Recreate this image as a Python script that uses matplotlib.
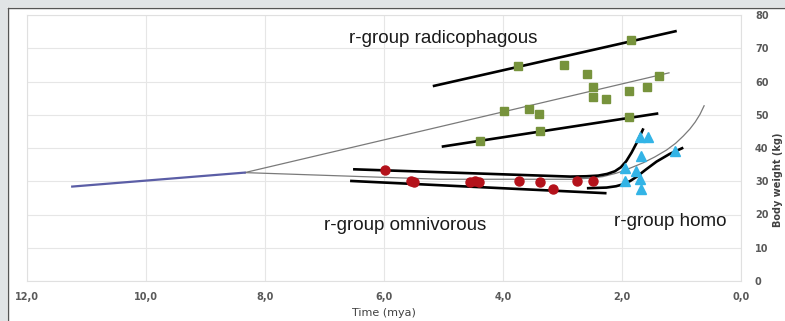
import matplotlib
matplotlib.use("Agg")
import matplotlib.pyplot as plt
from matplotlib.patches import Rectangle
from matplotlib.lines import Line2D

# ---- data (time in mya, body weight in kg) ----
radico_t = [1.85, 3.75, 2.97, 2.59, 1.38, 2.49, 2.49, 2.27, 1.88, 1.58, 3.98, 3.56, 3.39, 3.38, 4.39, 1.88]
radico_w = [72.5, 64.7, 65.0, 62.3, 61.7, 58.3, 55.3, 54.7, 57.1, 58.3, 51.1, 51.7, 50.2, 45.1, 42.1, 49.3]

omni_t = [5.98, 5.55, 5.49, 4.55, 4.47, 4.40, 3.73, 3.38, 3.16, 2.76, 2.48]
omni_w = [33.4, 30.0, 29.9, 29.8, 30.1, 29.9, 30.2, 29.9, 27.7, 30.1, 30.2]

homo_t = [1.70, 1.57, 1.68, 1.11, 1.95, 1.76, 1.70, 1.95, 1.68]
homo_w = [43.2, 43.2, 37.6, 39.2, 33.9, 33.2, 30.7, 30.2, 27.6]

# trend lines
radico_upper_t = [5.18, 1.08]
radico_upper_w = [58.6, 75.2]
radico_mid_t = [8.34, 1.21]
radico_mid_w = [32.6, 62.6]
radico_lower_t = [5.03, 1.39]
radico_lower_w = [40.4, 50.4]

omni_upper_t = [6.52, 2.87, 2.60, 2.40, 2.25, 2.12, 2.02, 1.93, 1.84, 1.74, 1.64]
omni_upper_w = [33.6, 31.4, 31.5, 31.7, 32.2, 33.0, 34.2, 36.0, 38.6, 42.0, 45.9]
omni_lower_t = [6.57, 2.26]
omni_lower_w = [30.1, 26.4]

main_thin_t = [8.34, 5.06, 2.87, 2.55, 2.32, 2.10, 1.98, 1.65, 1.45, 1.25, 1.10, 0.97, 0.86, 0.77, 0.69, 0.62]
main_thin_w = [32.6, 30.6, 30.6, 30.9, 31.4, 32.4, 33.1, 35.5, 37.3, 39.4, 41.4, 43.6, 45.7, 47.8, 50.1, 52.7]

homo_line_t = [2.59, 2.26, 2.10, 1.98, 1.86, 1.75, 1.60, 1.42, 1.20, 0.97]
homo_line_w = [27.9, 28.1, 28.5, 29.1, 30.1, 31.4, 33.5, 35.9, 38.2, 40.1]

ancestor_t = [11.24, 8.34]
ancestor_w = [28.4, 32.6]

x_ticks = [12, 10, 8, 6, 4, 2, 0]
y_ticks = [0, 10, 20, 30, 40, 50, 60, 70, 80]

# ---- figure ----
fig = plt.figure(figsize=(7.85, 3.21), dpi=100)
W, H = 785, 321

# grey frame bands (top and left)
fig.patches.append(Rectangle((0, 1 - 7 / H), 1, 7 / H, transform=fig.transFigure,
                             facecolor="#e1e4e6", edgecolor="none", zorder=0))
fig.patches.append(Rectangle((0, 0), 7 / W, 1, transform=fig.transFigure,
                             facecolor="#e1e4e6", edgecolor="none", zorder=0))
fig.lines.append(Line2D([7.5 / W, 1], [1 - 7.5 / H, 1 - 7.5 / H], transform=fig.transFigure,
                        color="#555555", lw=1.0))
fig.lines.append(Line2D([7.5 / W, 7.5 / W], [0, 1 - 7.5 / H], transform=fig.transFigure,
                        color="#555555", lw=1.0))

ax = fig.add_axes([27 / W, 1 - 281 / H, (741 - 27) / W, (281 - 15) / H])
ax.set_xlim(12, 0)
ax.set_ylim(0, 80)
ax.set_xticks(x_ticks)
ax.set_xticklabels([f"{v:.1f}".replace(".", ",") for v in x_ticks])
ax.set_yticks(y_ticks)
ax.set_yticklabels([str(v) for v in y_ticks])
ax.yaxis.tick_right()
ax.tick_params(length=0, labelsize=7, colors="#595959")
for lab in ax.get_xticklabels() + ax.get_yticklabels():
    lab.set_fontweight("bold")
ax.tick_params(axis="x", pad=8)
ax.tick_params(axis="y", pad=10)
ax.grid(True, color="#e6e6e6", lw=0.8)
ax.set_axisbelow(True)
for s in ax.spines.values():
    s.set_color("#e0e0e0")
    s.set_linewidth(0.8)

ax.set_xlabel("Time (mya)", fontsize=8, color="#404040", labelpad=4)

thick = dict(color="black", lw=1.9, solid_capstyle="butt", solid_joinstyle="round", zorder=3)
thin = dict(color="#7a7a7a", lw=0.9, solid_joinstyle="round", zorder=2)

ax.plot(ancestor_t, ancestor_w, color="#5b5ea6", lw=1.6, zorder=3)
ax.plot(radico_mid_t, radico_mid_w, **thin)
ax.plot(main_thin_t, main_thin_w, **thin)
ax.plot(radico_upper_t, radico_upper_w, **thick)
ax.plot(radico_lower_t, radico_lower_w, **thick)
ax.plot(omni_upper_t, omni_upper_w, **thick)
ax.plot(omni_lower_t, omni_lower_w, **thick)
ax.plot(homo_line_t, homo_line_w, **thick)

ax.plot(radico_t, radico_w, "s", ms=6.3, color="#77933c", mec="#77933c", zorder=4, ls="none")
ax.plot(omni_t, omni_w, "o", ms=6.5, color="#b4121b", mec="#b4121b", zorder=4, ls="none")
ax.plot(homo_t, homo_w, "^", ms=7.5, color="#33b4e6", mec="#33b4e6", zorder=4, ls="none")

lbl = dict(fontsize=13.5, family="Liberation Sans", color="#1a1a1a")
ax.text(5.0, 73.0, "r-group radicophagous", ha="center", va="center", **lbl)
ax.text(5.65, 16.8, "r-group omnivorous", ha="center", va="center", **lbl)
ax.text(0.25, 17.8, "r-group homo", ha="right", va="center", **lbl)

# y-axis title at the right edge
fig.text(778 / W, 1 - 180 / H, "Body weight (kg)", rotation=90, ha="center", va="center",
         fontsize=7, color="#404040", fontweight="bold")

fig.savefig("out.png", dpi=100)
